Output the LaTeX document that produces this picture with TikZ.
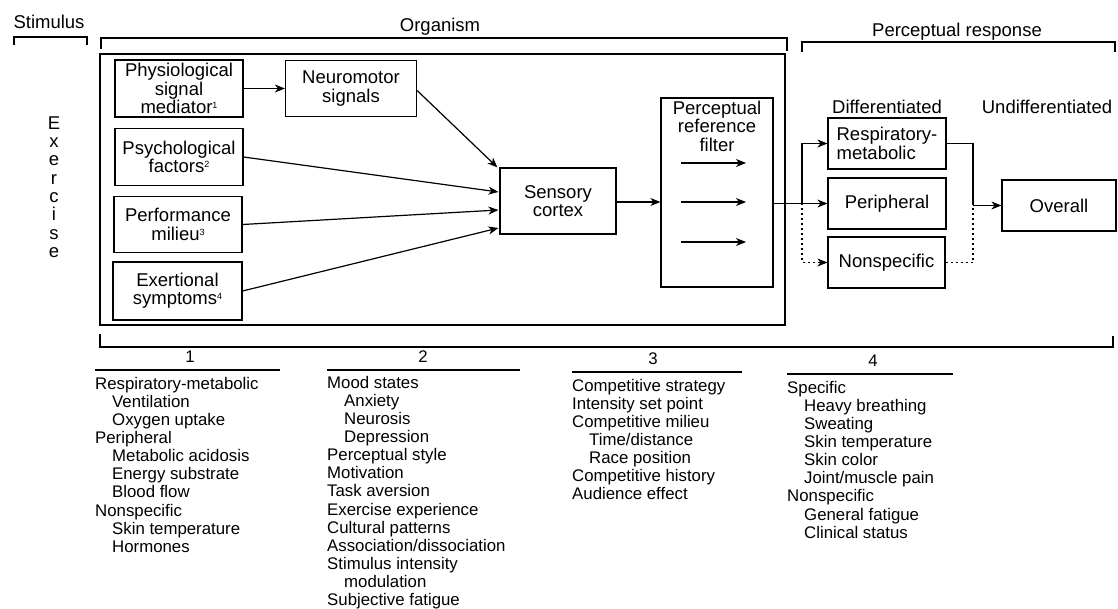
\documentclass[tikz,border=0pt]{standalone}
\usepackage{fontspec}
\setmainfont{Liberation Sans}
\usetikzlibrary{arrows.meta,calc}
\newcommand\myboxfont{\fontsize{18.5}{18.3}\selectfont}
\newcommand\mylistfont{\fontsize{16.8}{18.1}\selectfont}
\newcommand\myind{\hspace*{17pt}}
\newcommand\mysup[1]{\smash{\raisebox{5pt}{\fontsize{9}{9}\selectfont #1}}}
\tikzset{
  box/.style={draw, line width=1.2pt, inner sep=1pt, align=center, font=\myboxfont},
  arr/.style={-{Stealth[length=10pt,width=8pt,inset=3pt]}, line width=1.2pt},
  brk/.style={line width=1.3pt},
  ttl/.style={font=\myboxfont},
  lst/.style={font=\mylistfont, align=left, anchor=north west, inner sep=0pt},
  num/.style={font=\mylistfont, inner sep=0pt}
}
\begin{document}
\begin{tikzpicture}[x=1pt,y=-1pt]
\useasboundingbox (0,0) rectangle (1118,609);
% headings and brackets
\node[ttl] (stim) at (49,22) {Stimulus};
\node[ttl] (org) at (440,27) {Organism};
\node[ttl] (presp) at (957,32) {Perceptual response};
\draw[brk] (14,45) -- (14,37) -- (87,37) -- (87,45);
\draw[brk] (101,49) -- (101,38) -- (787,38) -- (787,51);
\draw[brk] (802,52) -- (802,42) -- (1115,42) -- (1115,52);
\draw[brk] (100,334) -- (100,347) -- (1113,347) -- (1113,336);
% organism frame
\draw[line width=1.3pt] (100,54) rectangle (785,325);
% exercise
\node[font=\myboxfont, align=center] (exer) at (54,187) {E\\x\\e\\r\\c\\i\\s\\e};
% left boxes
\node[box, minimum width=128pt, minimum height=57pt] (phys) at (179,88.5) {Physiological\\signal\\mediator\mysup{1}};
\node[box, minimum width=128pt, minimum height=57pt] (psych) at (179,157) {Psychological\\factors\mysup{2}};
\node[box, minimum width=128pt, minimum height=56pt] (perf) at (178,224.5) {Performance\\milieu\mysup{3}};
\node[box, minimum width=129pt, minimum height=58pt] (exert) at (177.5,291) {Exertional\\symptoms\mysup{4}};
\node[box, minimum width=131pt, minimum height=56pt] (neuro) at (351,88.5) {Neuromotor\\signals};
\node[box, minimum width=116pt, minimum height=66pt] (sens) at (558,201) {Sensory\\cortex};
\node[box, minimum width=112pt, minimum height=189pt] (filt) at (717,192.5) {};
\node[font=\myboxfont, align=center, anchor=north, inner sep=0pt] (ftext) at (717,101) {Perceptual\\reference\\filter};
% arrows into sensory cortex
\draw[arr] (phys.east) -- (neuro.west);
\draw[arr] ($(neuro.east)+(0,2)$) -- ($(sens.north west)+(-2,0)$);
\draw[arr] (psych.east) -- ($(sens.west)+(-1,-9)$);
\draw[arr] (perf.east) -- ($(sens.west)+(-1,9)$);
\draw[arr] (exert.east) -- ($(sens.west)+(-1,27)$);
\draw[arr] ($(sens.east)+(0,1)$) -- ($(sens.east -| filt.west)+(0,1)$);
% filter inner arrows
\coordinate (f1a) at (681,163); \coordinate (f1b) at (746,163);
\coordinate (f2a) at (681,202); \coordinate (f2b) at (746,202);
\coordinate (f3a) at (681,242); \coordinate (f3b) at (746,242);
\draw[arr] (f1a) -- (f1b);
\draw[arr] (f2a) -- (f2b);
\draw[arr] (f3a) -- (f3b);
% right side
\node[ttl] (diff) at (887,107) {Differentiated};
\node[ttl] (undiff) at (1047,107) {Undifferentiated};
\node[box, align=left, minimum width=118pt, minimum height=51pt] (resp) at (887,143.5) {Respiratory-\\metabolic};
\node[box, minimum width=118pt, minimum height=51pt] (periph) at (887,203.5) {Peripheral};
\node[box, minimum width=117pt, minimum height=51pt] (nonsp) at (886.5,262.5) {Nonspecific};
\node[box, minimum width=114pt, minimum height=51pt] (overall) at (1059,205.5) {Overall};
\coordinate (bx) at (802,203.5);
\coordinate (mx) at (973,205.5);
\draw[arr] (filt.east |- periph.west) -- (periph.west);
\draw[arr] (bx) |- (resp.west);
\draw[arr, dash pattern=on 2pt off 3pt] (bx) |- (nonsp.west);
\draw[line width=1.2pt] (resp.east) -| (mx);
\draw[line width=1.2pt, dash pattern=on 2pt off 3pt] (nonsp.east) -| (mx);
\draw[arr] (mx) -- (overall.west);
% lists
\node[num] (n1) at (190,357) {1};
\node[num] (n2) at (423,357) {2};
\node[num] (n3) at (653,359) {3};
\node[num] (n4) at (873,361) {4};
\draw[line width=1.3pt] (95,370) -- (280,370);
\draw[line width=1.3pt] (327,370) -- (520,370);
\draw[line width=1.3pt] (572,372) -- (742,372);
\draw[line width=1.3pt] (787,374) -- (953,374);
\node[lst] (l1) at (95,377) {Respiratory-metabolic\\\myind Ventilation\\\myind Oxygen uptake\\Peripheral\\\myind Metabolic acidosis\\\myind Energy substrate\\\myind Blood flow\\Nonspecific\\\myind Skin temperature\\\myind Hormones};
\node[lst] (l2) at (327,376) {Mood states\\\myind Anxiety\\\myind Neurosis\\\myind Depression\\Perceptual style\\Motivation\\Task aversion\\Exercise experience\\Cultural patterns\\Association/dissociation\\Stimulus intensity\\\myind modulation\\Subjective fatigue};
\node[lst] (l3) at (572,379) {Competitive strategy\\Intensity set point\\Competitive milieu\\\myind Time/distance\\\myind Race position\\Competitive history\\Audience effect};
\node[lst] (l4) at (787,381) {Specific\\\myind Heavy breathing\\\myind Sweating\\\myind Skin temperature\\\myind Skin color\\\myind Joint/muscle pain\\Nonspecific\\\myind General fatigue\\\myind Clinical status};
\end{tikzpicture}
\end{document}
